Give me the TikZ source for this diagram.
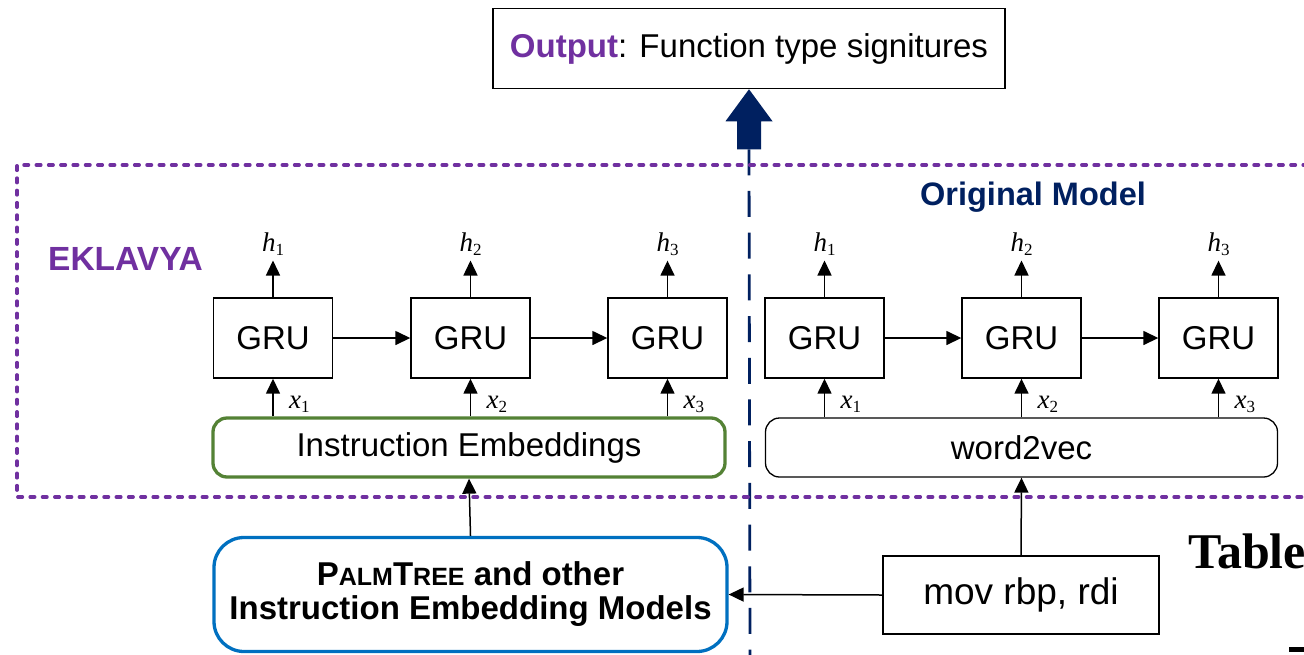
\documentclass[tikz,border=0pt]{standalone}
\usepackage{fontspec}
\setmainfont{Liberation Sans}
\newfontfamily\tms{Liberation Serif}
\usetikzlibrary{arrows.meta}
\definecolor{purp}{HTML}{7030A0}
\definecolor{navy}{HTML}{002060}
\definecolor{leaf}{HTML}{548235}
\definecolor{ocean}{HTML}{0070C0}

% italic variable with an upright subscript
\newcommand\mvar[2]{{\tms\itshape #1}\raisebox{-4pt}{\tms\fontsize{17}{17}\selectfont #2}}
\newcommand\smc[1]{{\fontsize{25}{38}\selectfont #1}}

\tikzset{
  big/.style={font=\fontsize{33}{38}\selectfont},
  plainbox/.style={draw, line width=1.4pt, inner sep=0pt, big},
  grubox/.style={plainbox, minimum width=119pt, minimum height=80pt},
  embbox/.style={draw, rounded corners=14pt, inner sep=0pt, big,
    minimum width=512pt, minimum height=59pt},
  var/.style={inner sep=0pt, font=\fontsize{27}{27}\selectfont},
  arr/.style={-{Triangle[length=15pt,width=14pt]}, line width=1.5pt},
  frame/.style={purp, line width=3.5pt, line cap=round,
    dash pattern=on 4.5pt off 7.8pt},
  divider/.style={navy, line width=2.8pt, dash pattern=on 26pt off 15.7pt},
}

\begin{document}
\begin{tikzpicture}[x=1pt, y=-1pt]
\clip (0,0) rectangle (1304,654);
\fill[white] (0,0) rectangle (1304,654);

% output box and the big arrow feeding it
\node[plainbox, line width=1.5pt, minimum width=512pt, minimum height=80pt]
  (out) at (749,48.5)
  {{\bfseries\color{purp}Output}: Function type signitures};
\fill[navy] (out.south) -- ++(23.5,32) -- ++(-11.5,0) -- ++(0,28)
  -- ++(-24,0) -- ++(0,-28) -- ++(-11.5,0) -- cycle;
\coordinate (divtop) at ([yshift=-60pt]out.south);
\coordinate (divbot) at (750,660);
\draw[divider] (divtop) -- (divbot);

% dotted frame around both models
\draw[frame] (1320,165) -- (17,165) -- (17,497) -- (1320,497);

\node[anchor=base west, inner sep=0pt, font=\fontsize{33.5}{38}\selectfont\bfseries,
  text=purp] (ekl) at (48,270) {EKLAVYA};
\node[anchor=base, inner sep=0pt, font=\fontsize{32.5}{38}\selectfont\bfseries,
  text=navy] (orig) at (1033,205) {Original Model};

% left model: GRU chain over instruction embeddings
\node[grubox] (a1) at (273,338) {GRU};
\node[grubox] (a2) at (470.5,338) {GRU};
\node[grubox] (a3) at (667.5,338) {GRU};
\node[embbox, draw=leaf, line width=3.3pt] (emb) at (469,447.5) {Instruction Embeddings};

% right model: GRU chain over word2vec
\node[grubox] (b1) at (824.5,338) {GRU};
\node[grubox] (b2) at (1021.5,338) {GRU};
\node[grubox] (b3) at (1218.5,338) {GRU};
\node[embbox, line width=1.3pt] (w2v) at (1021.5,447.5) {word2vec};

\foreach \g/\i in {a1/1,a2/2,a3/3,b1/1,b2/2,b3/3}{
  \node[var, anchor=base] (h\g) at ([yshift=46pt]\g.north) {\mvar{h}{\i}};
  \draw[arr, shorten >=5pt] (\g.north) -- (h\g.south);
  \node[var, anchor=base west] (x\g) at ([xshift=16pt,yshift=-30pt]\g.south) {\mvar{x}{\i}};
}
\foreach \g in {a1,a2,a3}{ \draw[arr] (emb.north -| \g.south) -- (\g.south); }
\foreach \g in {b1,b2,b3}{ \draw[arr] (w2v.north -| \g.south) -- (\g.south); }
\draw[arr] (a1) -- (a2);
\draw[arr] (a2) -- (a3);
\draw[arr] (b1) -- (b2);
\draw[arr] (b2) -- (b3);

% inputs
\node[draw=ocean, line width=3.3pt, rounded corners=30pt, inner sep=0pt,
  minimum width=513pt, minimum height=114pt, align=center,
  font=\fontsize{33}{37}\selectfont\bfseries] (palm) at (470.5,594.5)
  {\raisebox{-3pt}{P\smc{ALM}T\smc{REE} and other}\\[-3pt]\raisebox{-3pt}{Instruction Embedding Models}};
\node[plainbox, line width=1.5pt, minimum width=276pt, minimum height=78pt,
  font=\fontsize{37}{40}\selectfont] (mov) at (1021,595) {mov rbp, rdi};
\draw[arr] (palm.north) -- (emb.south);
\draw[arr] (mov.north) -- (w2v.south);
\draw[arr] (mov.west) -- (palm.east);

% neighbouring page content
\node[anchor=base west, inner sep=0pt, font=\tms\bfseries\fontsize{50}{50}\selectfont]
  (tbl) at (1188,568) {Table};
\fill (1289,646.5) rectangle (1310,652);
\end{tikzpicture}
\end{document}
